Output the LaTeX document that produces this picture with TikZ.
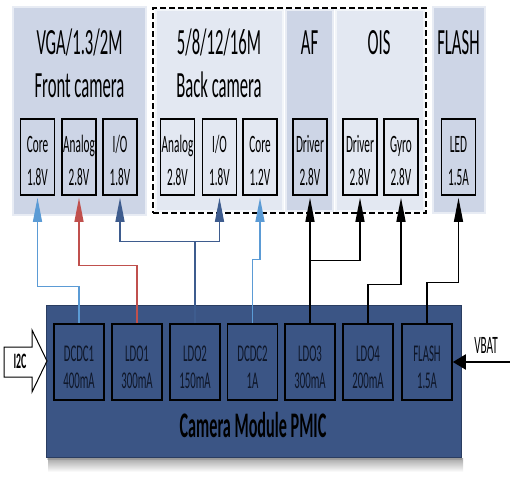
\documentclass[tikz,border=0pt]{standalone}
\usepackage{fontspec}
\setmainfont{Carlito}
\newfontfamily\cf{Carlito}[FakeStretch=0.45]
\usetikzlibrary{arrows.meta,shadows}
\definecolor{pdark}{HTML}{CDD5E6}
\definecolor{plight}{HTML}{E3E8F2}
\definecolor{pmicc}{HTML}{3B5585}
\definecolor{pmicedge}{HTML}{2A3D61}
\definecolor{lblue}{HTML}{5B9BD5}
\definecolor{lred}{HTML}{C0504D}
\definecolor{navy}{HTML}{3E5C8E}
\definecolor{ptext}{HTML}{0E1628}
\newcommand\camBox[4]{%
  \node[boxframe] (#1) at (#2,157) {};
  \node[boxtxt] (#1-a) at (#2,152) {#3};
  \node[boxtxt] (#1-b) at (#2,185) {#4};}
\newcommand\pmicBox[4]{%
  \node[pmicframe] (#1) at (#2,362) {};
  \node[pmictxt] (#1-a) at (#2,361) {#3};
  \node[pmictxt] (#1-b) at (#2,388) {#4};}
\begin{document}
\begin{tikzpicture}[x=1pt,y=-1pt,
  panel/.style={draw=white!55!#1, fill=#1, line width=2.5pt, inner sep=0pt},
  camtitle/.style={font=\cf\fontsize{37}{40}\selectfont, anchor=base, inner sep=0pt},
  boxframe/.style={draw=black, line width=1.6pt, minimum width=34pt, minimum height=76pt, inner sep=0pt},
  boxtxt/.style={font=\cf\fontsize{25}{30}\selectfont, anchor=base, inner sep=0pt},
  pmicframe/.style={draw=black, line width=1.6pt, fill=pmicc, minimum width=50pt, minimum height=76pt, inner sep=0pt},
  pmictxt/.style={font=\cf\fontsize{24}{28}\selectfont, text=ptext, anchor=base, inner sep=0pt},
  feed/.style={line width=1.3pt, -{Triangle[length=24pt,width=9pt]}},
]
\useasboundingbox (0,0) rectangle (510,483);
% panels
\node[panel=pdark, minimum width=133pt, minimum height=208pt] (front) at (79.5,111) {};
\node[panel=plight, minimum width=127pt, minimum height=201pt] (back) at (219.5,110.5) {};
\node[panel=pdark, minimum width=47pt, minimum height=201pt] (af) at (309.5,110.5) {};
\node[panel=plight, minimum width=88pt, minimum height=201pt] (ois) at (380,110.5) {};
\node[panel=pdark, minimum width=52pt, minimum height=206pt] (flashp) at (459,110) {};
\node[draw, line width=1.8pt, dash pattern=on 6pt off 3pt, minimum width=273pt, minimum height=205pt, inner sep=0pt] (bd) at (289.5,110.5) {};
% titles
\node[camtitle] (t1) at (79.5,54) {VGA/1.3/2M};
\node[camtitle] (t2) at (79.5,97) {Front camera};
\node[camtitle] (t3) at (219,54) {5/8/12/16M};
\node[camtitle] (t4) at (219,97) {Back camera};
\node[camtitle] (t5) at (309.5,54) {AF};
\node[camtitle] (t6) at (379,54) {OIS};
\node[camtitle] (t7) at (458.5,54) {FLASH};
% camera-side boxes
\camBox{fcore}{37.5}{Core}{1.8V}
\camBox{fana}{79}{Analog}{2.8V}
\camBox{fio}{120}{I/O}{1.8V}
\camBox{bana}{177.5}{Analog}{2.8V}
\camBox{bio}{219.5}{I/O}{1.8V}
\camBox{bcore}{260}{Core}{1.2V}
\camBox{afdrv}{310}{Driver}{2.8V}
\camBox{oisdrv}{360}{Driver}{2.8V}
\camBox{gyro}{401}{Gyro}{2.8V}
\camBox{led}{458.5}{LED}{1.5A}
% PMIC
\shade[top color=black!35, bottom color=white] (48,458) rectangle (463,472);
\node[fill=pmicc, draw=pmicedge, line width=1pt, minimum width=415pt, minimum height=152pt, inner sep=0pt,
      drop shadow={shadow xshift=1pt, shadow yshift=-3pt, opacity=0.35}] (pmic) at (253.5,381) {};
\pmicBox{dcdc1}{79}{DCDC1}{400mA}
\pmicBox{ldo1}{137}{LDO1}{300mA}
\pmicBox{ldo2}{195}{LDO2}{150mA}
\pmicBox{dcdc2}{252.5}{DCDC2}{1A}
\pmicBox{ldo3}{310}{LDO3}{300mA}
\pmicBox{ldo4}{368}{LDO4}{200mA}
\pmicBox{pflash}{427}{FLASH}{1.5A}
\node[font=\cf\bfseries\fontsize{36}{40}\selectfont, anchor=base, inner sep=0pt] (pmict) at (253,437) {Camera Module PMIC};
% connectors
\draw[feed, lblue] (dcdc1.north) -- ++(0,-37) -| ([yshift=-2pt]fcore.south);
\draw[feed, lred] (ldo1.north) -- ++(0,-58) -| ([yshift=-2pt]fana.south);
\draw[line width=1.3pt, navy] (ldo2.north) -- ++(0,-82) coordinate (j2);
\draw[feed, navy] (j2) -| ([yshift=-2pt]fio.south);
\draw[feed, navy] (j2) -| ([yshift=-2pt]bio.south);
\draw[feed, lblue] (dcdc2.north) -- ++(0,-64) -| ([yshift=-2pt]bcore.south);
\draw[feed] (ldo3.north) -- ([yshift=-2pt]afdrv.south);
\draw[line width=1.3pt] (ldo3.north) -- ++(0,-63) coordinate (j3);
\draw[feed] (j3) -| ([yshift=-2pt]oisdrv.south);
\draw[feed] (ldo4.north) -- ++(0,-39) -| ([yshift=-2pt]gyro.south);
\draw[feed] (pflash.north) -- ++(0,-41) -| ([yshift=-2pt]led.south);
% I2C input
\draw[fill=white, line width=1pt] (4,347) -- (32,347) -- (32,330) -- (47,361) -- (32,392) -- (32,377) -- (4,377) -- cycle;
\node[font=\cf\bfseries\fontsize{22}{24}\selectfont, anchor=base, inner sep=0pt] (i2c) at (20,368) {I2C};
% VBAT input
\coordinate (vbat) at (510,362);
\draw[line width=2pt, -{Triangle[length=13pt,width=15pt]}] (vbat) -- (pflash.east |- vbat);
\node[font=\cf\fontsize{25}{28}\selectfont, anchor=base, inner sep=0pt] (vbatl) at (486,353) {VBAT};
\end{tikzpicture}
\end{document}
